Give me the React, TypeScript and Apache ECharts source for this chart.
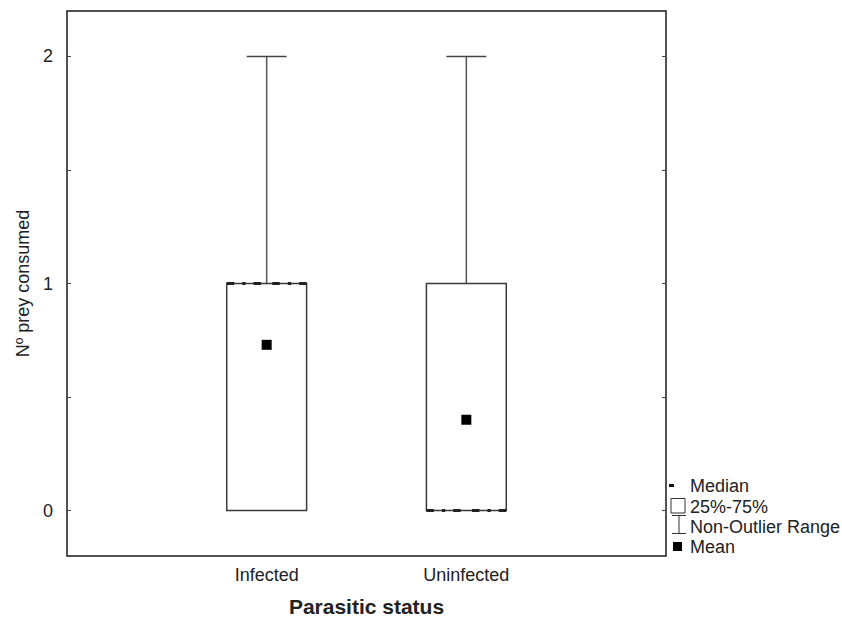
import React, { useEffect, useRef } from "react";
import * as echarts from "echarts";

const categories = ["Infected", "Uninfected"];
const minValues = [0, 0];
const q1Values = [0, 0];
const medianValues = [1, 0];
const q3Values = [1, 1];
const maxValues = [2, 2];
const meanValues = [0.73, 0.4];
const yTickLabels = [0, 1, 2];
const yTicks = [0, 0.5, 1, 1.5, 2];
const legendLabels = ["Median", "25%-75%", "Non-Outlier Range", "Mean"];

const FONT = "'Liberation Sans', Arial, Helvetica, sans-serif";
const TXT = "#222";

export default function App() {
  const ref = useRef<HTMLDivElement>(null);
  useEffect(() => {
    if (!ref.current) return;
    const chart = echarts.init(ref.current, null, { renderer: "svg" });
    const data = categories.map((_, i) => [
      i + 1,
      minValues[i],
      q1Values[i],
      medianValues[i],
      q3Values[i],
      maxValues[i],
      meanValues[i],
    ]);

    const renderItem = (params: any, api: any) => {
      const x = api.value(0);
      const mn = api.value(1);
      const q1 = api.value(2);
      const md = api.value(3);
      const q3 = api.value(4);
      const mx = api.value(5);
      const mean = api.value(6);
      const boxW = api.size([0.4, 0])[0];
      const capW = api.size([0.2, 0])[0];
      const c = api.coord([x, 0])[0];
      const yq1 = api.coord([x, q1])[1];
      const yq3 = api.coord([x, q3])[1];
      const ymd = api.coord([x, md])[1];
      const ymx = api.coord([x, mx])[1];
      const ymn = api.coord([x, mn])[1];
      const ymean = api.coord([x, mean])[1];
      const children: any[] = [];
      children.push({ type: "line", shape: { x1: c, y1: ymx, x2: c, y2: yq3 }, style: { stroke: "#555", lineWidth: 1.5 } });
      children.push({ type: "line", shape: { x1: c - capW / 2, y1: ymx, x2: c + capW / 2, y2: ymx }, style: { stroke: "#444", lineWidth: 1.5 } });
      if (ymn !== yq1) {
        children.push({ type: "line", shape: { x1: c, y1: ymn, x2: c, y2: yq1 }, style: { stroke: "#555", lineWidth: 1.5 } });
        children.push({ type: "line", shape: { x1: c - capW / 2, y1: ymn, x2: c + capW / 2, y2: ymn }, style: { stroke: "#444", lineWidth: 1.5 } });
      }
      children.push({
        type: "rect",
        shape: { x: c - boxW / 2, y: yq3, width: boxW, height: yq1 - yq3 },
        style: { stroke: "#3a3a3a", lineWidth: 1.5, fill: "#fff" },
      });
      const dash = [7.5, 8, 3.3, 8];
      children.push({
        type: "line",
        shape: { x1: c - boxW / 2, y1: ymd, x2: c, y2: ymd },
        style: { stroke: "#222", lineWidth: 3, lineDash: dash },
      });
      children.push({
        type: "line",
        shape: { x1: c + boxW / 2, y1: ymd, x2: c, y2: ymd },
        style: { stroke: "#222", lineWidth: 3, lineDash: dash },
      });
      children.push({
        type: "rect",
        shape: { x: c - 5, y: ymean - 5, width: 10, height: 10 },
        style: { fill: "#000" },
      });
      return { type: "group", children };
    };

    const lx = 690;
    const legendY = [486, 506.5, 527, 547];

    chart.setOption({
      animation: false,
      backgroundColor: "#fff",
      textStyle: { fontFamily: FONT },
      grid: {
        left: 67,
        top: 11,
        right: 176,
        bottom: 63,
        show: true,
        borderColor: "#1a1a1a",
        borderWidth: 1.5,
        backgroundColor: "#fff",
      },
      xAxis: {
        type: "value",
        min: 0,
        max: 3,
        axisLine: { show: false },
        splitLine: { show: false },
        axisTick: {
          show: true,
          inside: true,
          length: 4,
          customValues: [1, 2],
          lineStyle: { color: "#444", width: 1 },
        },
        axisLabel: {
          customValues: [1, 2],
          formatter: (v: number) => categories[Math.round(v) - 1] ?? "",
          fontSize: 18,
          color: TXT,
          fontFamily: FONT,
          margin: 10,
        },
        name: "Parasitic status",
        nameLocation: "middle",
        nameGap: 40,
        nameTextStyle: { fontSize: 21, fontWeight: "bold", color: TXT, fontFamily: FONT },
      },
      yAxis: [
        {
          type: "value",
          min: -0.2,
          max: 2.2,
          axisLine: { show: false },
          splitLine: { show: false },
          axisTick: {
            show: true,
            inside: true,
            length: 4,
            customValues: yTicks,
            lineStyle: { color: "#444", width: 1 },
          },
          axisLabel: {
            customValues: yTickLabels,
            fontSize: 18,
            color: TXT,
            fontFamily: FONT,
            margin: 14,
          },
          name: "Nº prey consumed",
          nameLocation: "middle",
          nameGap: 33,
          nameTextStyle: { fontSize: 18, color: TXT, fontFamily: FONT },
        },
        {
          type: "value",
          position: "right",
          min: -0.2,
          max: 2.2,
          axisLine: { show: false },
          splitLine: { show: false },
          axisTick: {
            show: true,
            inside: true,
            length: 4,
            customValues: yTicks,
            lineStyle: { color: "#444", width: 1 },
          },
          axisLabel: { show: false },
        },
      ],
      series: [
        {
          type: "custom",
          renderItem,
          data,
          encode: { x: 0, y: [1, 2, 3, 4, 5] },
          clip: false,
        },
      ],
      graphic: [
        { type: "rect", shape: { x: 669, y: 484, width: 5, height: 3 }, style: { fill: "#111" } },
        { type: "rect", shape: { x: 671, y: 498.5, width: 14, height: 14.5 }, style: { fill: "#fff", stroke: "#333", lineWidth: 1 } },
        { type: "line", shape: { x1: 679, y1: 515.5, x2: 679, y2: 533.5 }, style: { stroke: "#333", lineWidth: 1 } },
        { type: "line", shape: { x1: 672, y1: 515.5, x2: 686, y2: 515.5 }, style: { stroke: "#333", lineWidth: 1 } },
        { type: "line", shape: { x1: 672, y1: 533.5, x2: 686, y2: 533.5 }, style: { stroke: "#333", lineWidth: 1 } },
        { type: "rect", shape: { x: 673, y: 542, width: 9, height: 9 }, style: { fill: "#000" } },
        ...legendLabels.map((t, i) => ({
          type: "text",
          x: lx,
          y: legendY[i],
          style: {
            text: t,
            fontSize: 18,
            fontFamily: FONT,
            fill: TXT,
            textVerticalAlign: "middle",
            verticalAlign: "middle",
            align: "left",
          },
        })),
      ],
    });
    return () => chart.dispose();
  }, []);
  return (
    <div
      ref={ref}
      style={{ position: "fixed", left: 0, top: 0, width: 842, height: 622, background: "#fff" }}
    />
  );
}
